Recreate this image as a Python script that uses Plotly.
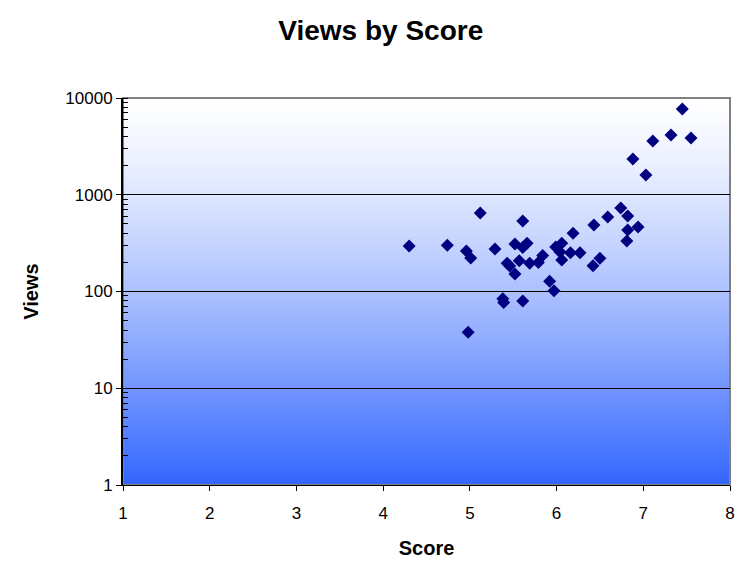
import plotly.graph_objects as go

# Score / Views pairs
scores = [4.30, 4.74, 4.96, 5.01, 5.12, 4.98, 5.29, 5.43, 5.46, 5.52,
          5.38, 5.39, 5.61, 5.61, 5.52, 5.61, 5.66, 5.57, 5.69, 5.79,
          5.84, 5.92, 5.97, 5.99, 6.06, 6.04, 6.06, 6.16, 6.27, 6.19,
          6.42, 6.50, 6.43, 6.59, 6.74, 6.82, 6.94, 6.82, 6.81, 6.88,
          7.03, 7.11, 7.32, 7.45, 7.55]
views = [295, 300, 262, 222, 647, 38, 275, 196, 183, 152,
         84, 77, 80, 536, 310, 285, 316, 208, 196, 200,
         236, 128, 102, 288, 316, 256, 212, 251, 251, 400,
         185, 220, 488, 589, 730, 603, 464, 432, 333, 2340,
         1600, 3590, 4150, 7690, 3860]

x_ticks = [1, 2, 3, 4, 5, 6, 7, 8]

fig = go.Figure()

fig.add_trace(go.Scatter(
    x=scores, y=views, mode="markers",
    marker=dict(symbol="diamond", size=10, color="#000080"),
    showlegend=False,
))

# gradient background: white at top -> blue at bottom
top = (255, 255, 255)
bottom = (51, 102, 255)
n = 120
shapes = []
for i in range(n):
    t = (i + 0.5) / n
    k = t ** 1.3
    c = tuple(round(top[j] + (bottom[j] - top[j]) * k) for j in range(3))
    shapes.append(dict(
        type="rect", xref="x domain", yref="y domain", layer="below",
        x0=0, x1=1, y0=1 - (i + 1) / n, y1=1 - i / n + 0.002,
        line=dict(width=0), fillcolor="rgb(%d,%d,%d)" % c,
    ))
shapes.append(dict(
    type="rect", xref="x domain", yref="y domain", layer="below",
    x0=0, x1=1, y0=0, y1=1, line=dict(color="#808080", width=2),
))

fig.update_layout(
    width=750, height=580,
    margin=dict(l=115, r=28, t=90, b=103),
    paper_bgcolor="white", plot_bgcolor="white",
    font=dict(family="Liberation Sans, Arial", size=17, color="black"),
    title=dict(text="<b>Views by Score</b>", x=0.497, xanchor="center",
               y=0.962, yanchor="middle", font=dict(size=28)),
    shapes=shapes,
)

fig.update_xaxes(
    range=[1, 8], tickvals=x_ticks, ticks="outside", ticklen=5,
    tickcolor="black", showgrid=False, zeroline=False,
    showline=True, linecolor="black", linewidth=1,
    ticklabelstandoff=8,
    title=dict(text="<b>Score</b>", standoff=18),
)
fig.update_yaxes(
    type="log", range=[0, 4], dtick=1, tickformat="d",
    ticks="outside", ticklen=5, tickcolor="black",
    showgrid=True, gridcolor="black", gridwidth=1,
    minor=dict(ticks="inside", ticklen=5, dtick="D1", tickcolor="black",
               showgrid=False),
    showline=True, linecolor="black", linewidth=2, zeroline=False,
    title=dict(text="<b>Views</b>", standoff=21),
)

fig.write_html("out.html")
